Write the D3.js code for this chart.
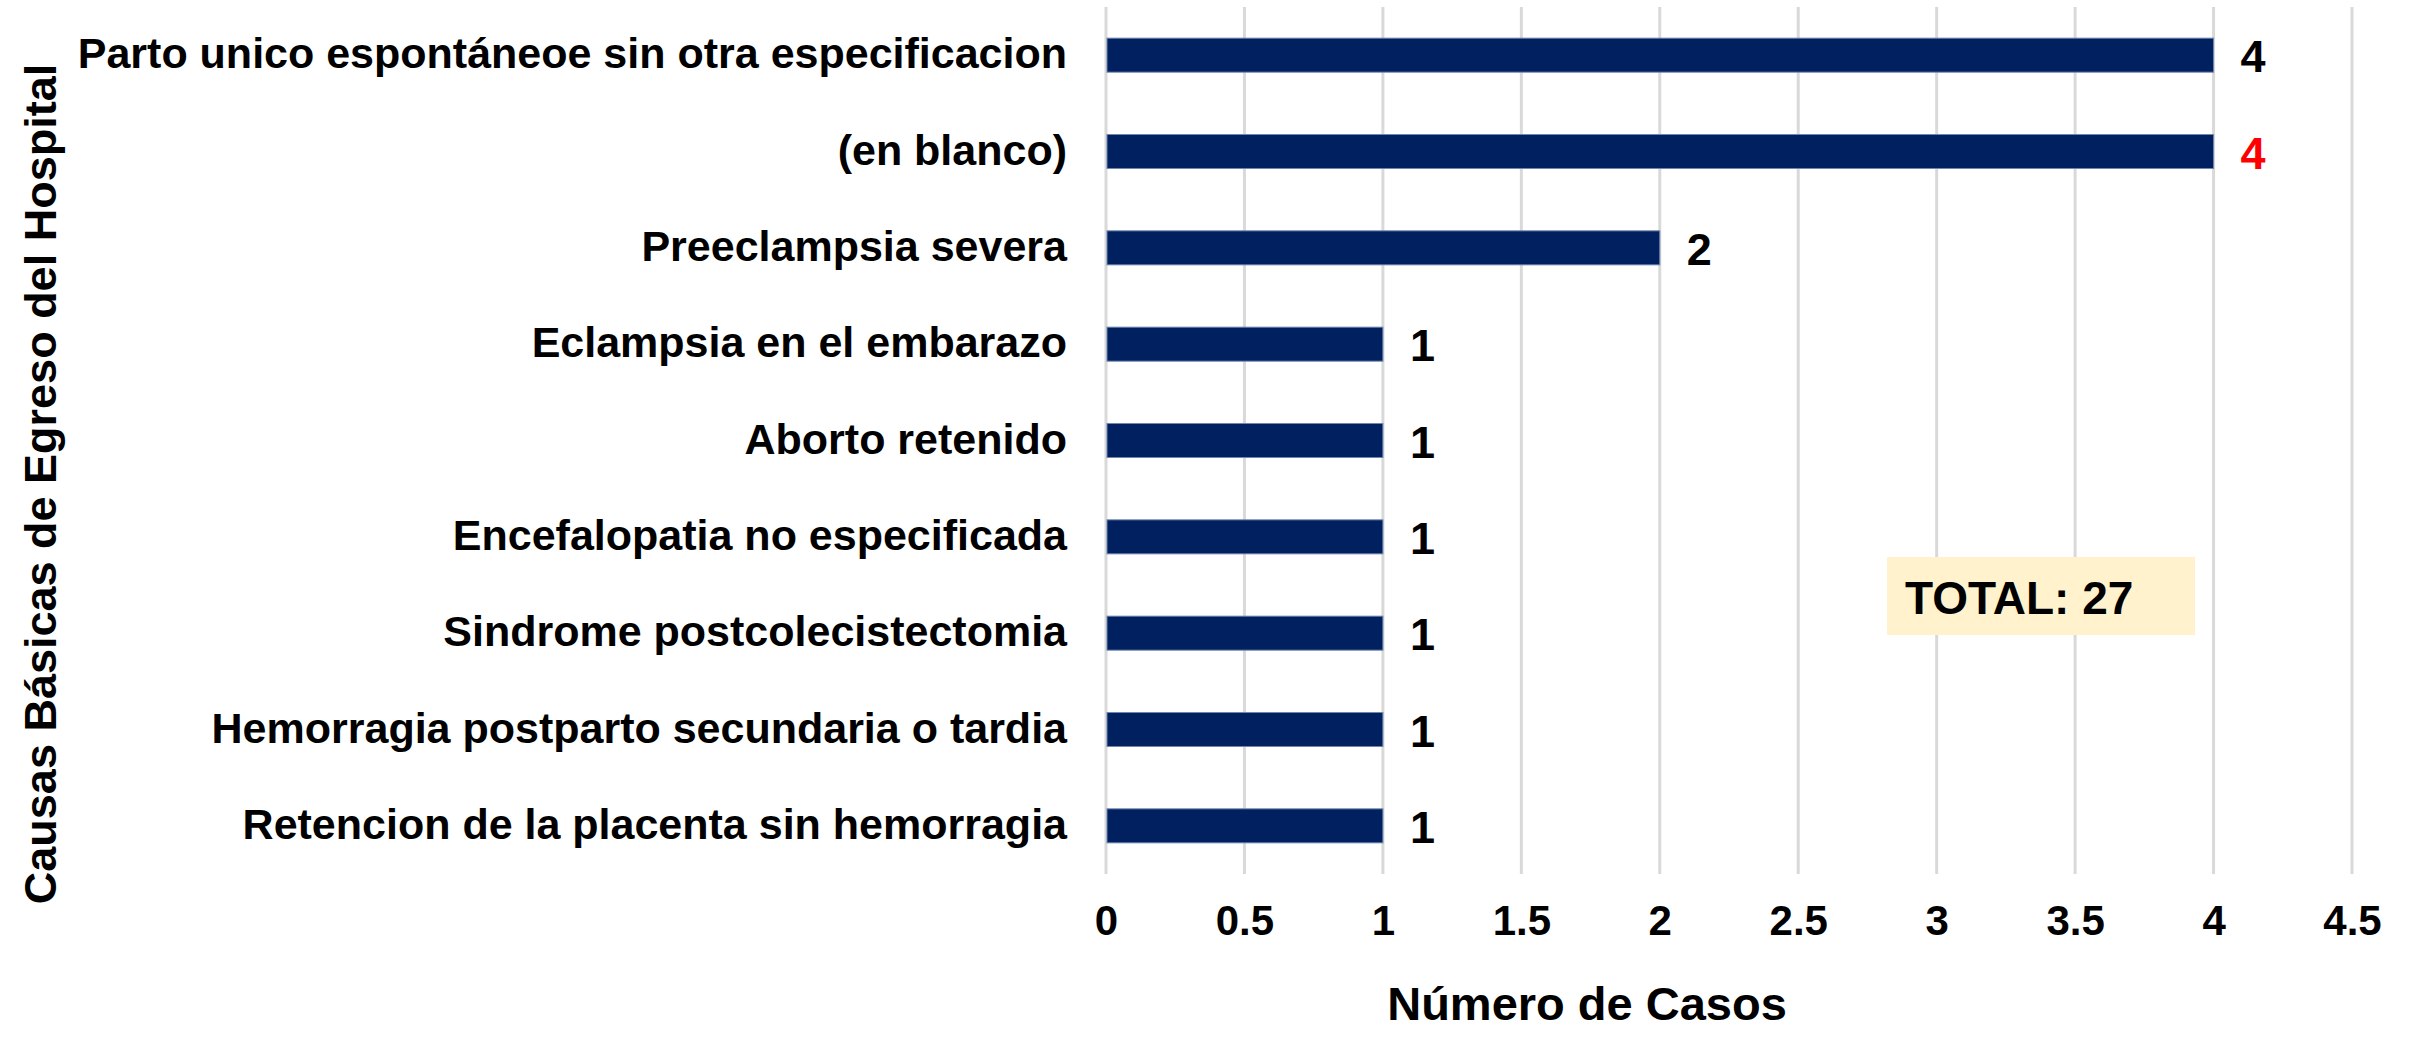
<!DOCTYPE html>
<html lang="es">
<head>
    <meta charset="UTF-8">
    <title>Causas Básicas de Egreso del Hospital</title>
    <script src="https://d3js.org/d3.v7.min.js"></script>
    <style>
        body { margin: 0; padding: 0; background: #fff; }
        svg { display: block; }
        text { font-family: "Liberation Sans", Arial, sans-serif; font-weight: bold; fill: #000; }
        .grid line { stroke: #d9d9d9; stroke-width: 3px; }
        .bar { fill: #002060; stroke: #6f86ad; stroke-width: 1px; }
    </style>
</head>
<body>
<div id="chart"></div>
<script>
    // data
    const categories = [
        "Parto unico espontáneoe sin otra especificacion",
        "(en blanco)",
        "Preeclampsia severa",
        "Eclampsia en el embarazo",
        "Aborto retenido",
        "Encefalopatia no especificada",
        "Sindrome postcolecistectomia",
        "Hemorragia postparto secundaria o tardia",
        "Retencion de la placenta sin hemorragia"
    ];
    const casos = [4, 4, 2, 1, 1, 1, 1, 1, 1];
    const labelColors = ["#000", "#ff0000", "#000", "#000", "#000", "#000", "#000", "#000", "#000"];
    const xTicks = [0, 0.5, 1, 1.5, 2, 2.5, 3, 3.5, 4, 4.5];
    const totalText = "TOTAL: 27";

    const width = 2410, height = 1037;
    const svg = d3.select("#chart").append("svg").attr("width", width).attr("height", height);

    const x = d3.scaleLinear().domain([0, 4.5]).range([1106, 2352]);
    const y = d3.scaleBand().domain(categories).range([7, 874]).paddingInner(0.647).paddingOuter(0.3235);

    // vertical gridlines
    svg.append("g").attr("class", "grid")
        .selectAll("line")
        .data(xTicks)
        .enter()
        .append("line")
        .attr("x1", d => x(d)).attr("x2", d => x(d))
        .attr("y1", 7).attr("y2", 874);

    // x axis tick labels (no domain line / ticks)
    const xAxis = svg.append("g")
        .attr("transform", "translate(0, 874)")
        .call(d3.axisBottom(x).tickValues(xTicks).tickSize(0).tickPadding(0).tickFormat(d3.format("")));
    xAxis.select(".domain").remove();
    xAxis.selectAll("text")
        .attr("y", 61).attr("dy", null)
        .style("font-size", "42px")
        .style("font-family", "'Liberation Sans', Arial, sans-serif")
        .style("font-weight", "bold")
        .attr("fill", "#000");

    // category labels
    svg.append("g")
        .selectAll("text")
        .data(categories)
        .enter()
        .append("text")
        .attr("x", 1067)
        .attr("y", d => y(d) + y.bandwidth() / 2 + 13)
        .attr("text-anchor", "end")
        .style("font-size", "43px")
        .text(d => d);

    // bars
    svg.append("g")
        .selectAll("rect")
        .data(casos)
        .enter()
        .append("rect")
        .attr("class", "bar")
        .attr("x", x(0) + 1)
        .attr("y", (d, i) => y(categories[i]))
        .attr("width", d => x(d) - x(0) - 1)
        .attr("height", y.bandwidth());

    // value labels
    svg.append("g")
        .selectAll("text")
        .data(casos)
        .enter()
        .append("text")
        .attr("x", d => x(d) + 27)
        .attr("y", (d, i) => y(categories[i]) + y.bandwidth() / 2 + 17)
        .style("font-size", "45px")
        .style("fill", (d, i) => labelColors[i])
        .text(d => d);

    // total box
    svg.append("rect")
        .attr("x", 1887).attr("y", 557)
        .attr("width", 308).attr("height", 78)
        .attr("fill", "#fff2cc");
    svg.append("text")
        .attr("x", 1905).attr("y", 614)
        .style("font-size", "46px")
        .text(totalText);

    // axis titles
    svg.append("text")
        .attr("x", 1587).attr("y", 1020)
        .attr("text-anchor", "middle")
        .style("font-size", "47px")
        .text("Número de Casos");

    svg.append("text")
        .attr("transform", "translate(56, 484) rotate(-90)")
        .attr("text-anchor", "middle")
        .style("font-size", "45px")
        .text("Causas Básicas de Egreso del Hospital");
</script>
</body>
</html>
